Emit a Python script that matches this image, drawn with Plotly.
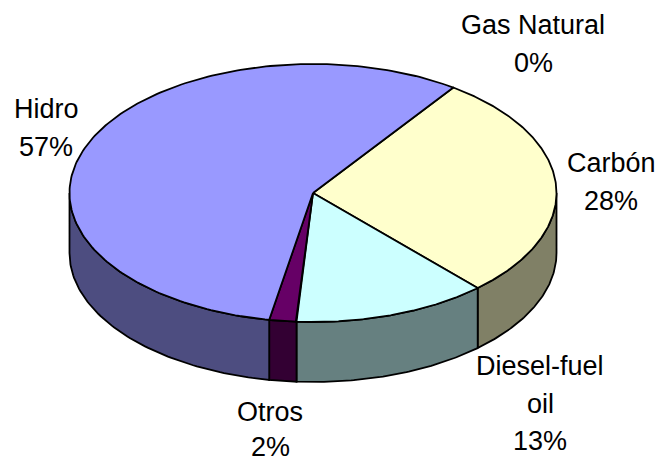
import numpy as np
import plotly.graph_objects as go

categories = ["Gas Natural", "Carbón", "Diesel-fuel\noil", "Otros", "Hidro"]
values = [0.0, 28.4, 12.9, 1.8, 56.9]
top_colors = ["#FF8080", "#FFFFCC", "#CCFFFF", "#660066", "#9999FF"]
side_colors = ["#804040", "#808066", "#668080", "#330033", "#4D4D80"]
label_x = [533, 611, 540, 270, 46]
label_y = [25, 163, 366, 412, 109]
label_step = [37.5, 37.5, 37.5, 34.5, 37.5]

CX, CY, RX, RY, DEPTH, START = 313, 193, 243.5, 129, 60, 35.2
LINE = dict(color="black", width=1.8)


def pt(deg, dy=0):
    t = np.radians(deg)
    return CX + RX * np.sin(t), CY - RY * np.cos(t) + dy


fig = go.Figure()
angle = START
spans = []
for v in values:
    spans.append((angle, angle + v * 3.6))
    angle += v * 3.6

# side walls, front part only (angles 90..270 from the top)
for (a, b), col in zip(spans, side_colors):
    a2, b2 = max(a, 90), min(b, 270)
    if b2 <= a2:
        continue
    ts = np.linspace(a2, b2, 80)
    x1, y1 = pt(ts)
    x2, y2 = pt(ts[::-1], DEPTH)
    fig.add_trace(go.Scatter(
        x=np.r_[x1, x2, x1[0]], y=np.r_[y1, y2, y1[0]], mode="lines",
        fill="toself", fillcolor=col, line=LINE, hoverinfo="skip"))

# top faces
for (a, b), col, v in zip(spans, top_colors, values):
    if v == 0:
        continue
    ts = np.linspace(a, b, 200)
    x, y = pt(ts)
    fig.add_trace(go.Scatter(
        x=np.r_[CX, x, CX], y=np.r_[CY, y, CY], mode="lines",
        fill="toself", fillcolor=col, line=LINE, hoverinfo="skip"))

for name, v, lx, ly, step in zip(categories, values, label_x, label_y, label_step):
    for i, line in enumerate(name.split("\n") + [f"{round(v)}%"]):
        fig.add_annotation(x=lx, y=ly + i * step, text=line, showarrow=False,
                           xanchor="center", yanchor="middle", align="center",
                           height=26, borderpad=0, borderwidth=0,
                           font=dict(family="Liberation Sans, Arial", size=27, color="black"))

axis = dict(visible=False, fixedrange=True)
fig.update_layout(
    width=661, height=463, margin=dict(l=0, r=0, t=0, b=0), showlegend=False,
    paper_bgcolor="white", plot_bgcolor="white",
    xaxis=dict(range=[0, 661], **axis),
    yaxis=dict(range=[463, 0], **axis),
)
fig.write_html("out.html", config=dict(displayModeBar=False),
               post_script="document.body.style.margin='0';document.body.style.overflow='hidden';")
